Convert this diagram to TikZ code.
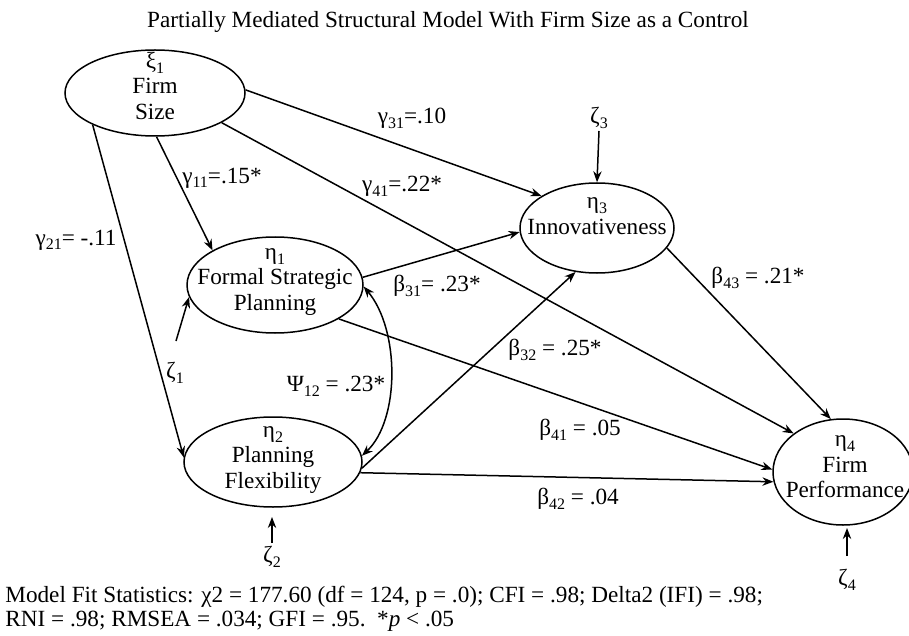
\documentclass[tikz,border=0pt]{standalone}
\usepackage{fontspec}
\setmainfont{Liberation Serif}
\usetikzlibrary{shapes.geometric,arrows.meta}
\newcommand{\sbs}[1]{\raisebox{-0.45ex}{\fontsize{8}{8}\selectfont #1}}
\tikzset{
  lat/.style={draw, ellipse, line width=0.75pt, inner sep=0pt},
  txt/.style={align=center, font=\fontsize{11.6}{12.8}\selectfont, inner sep=0pt},
  lbl/.style={font=\fontsize{11.6}{13}\selectfont, inner sep=0pt},
  path/.style={line width=0.75pt, -{Stealth[length=5.5pt,width=4.2pt]}},
  dpath/.style={line width=0.75pt, {Stealth[length=5.5pt,width=4.2pt]}-{Stealth[length=5.5pt,width=4.2pt]}}
}
\begin{document}
\begin{tikzpicture}[x=0.5pt,y=-0.5pt]
\useasboundingbox (0,0) rectangle (909,636);
% title
\node[lbl] (title) at (448,22) {Partially Mediated Structural Model With Firm Size as a Control};
% latent variables
\node[lat, minimum width=90pt, minimum height=43pt] (fs) at (155,93) {};
\node[lat, minimum width=88pt, minimum height=48pt] (fsp) at (275,285) {};
\node[lat, minimum width=77pt, minimum height=45pt] (inn) at (597,228) {};
\node[lat, minimum width=89pt, minimum height=45pt] (pf) at (273,462) {};
\node[lat, minimum width=70pt, minimum height=53pt] (fp) at (843,472) {};
\node[txt] (fst) at (155,86) {ξ\sbs{1}\\Firm\\Size};
\node[txt] (fspt) at (275,282) {η\sbs{1}\\Formal Strategic\\Planning};
\node[txt] (innt) at (597,216) {η\sbs{3}\\Innovativeness};
\node[txt] (pft) at (273,460) {η\sbs{2}\\Planning\\Flexibility};
\node[txt] (fpt) at (845,467) {η\sbs{4}\\Firm\\Performance};
% disturbances
\node[lbl] (z1) at (175,373) {ζ\sbs{1}};
\node[lbl] (z2) at (272,557) {ζ\sbs{2}};
\node[lbl] (z3) at (599,118) {ζ\sbs{3}};
\node[lbl] (z4) at (847,580) {ζ\sbs{4}};
\coordinate (z1s) at (176,341);
\coordinate (z2s) at (272,543);
\coordinate (z2e) at (272,517);
\coordinate (z3s) at (599,131);
\coordinate (z4s) at (847,556);
\coordinate (z4e) at (847,528);
\draw[path] (z1s) -- (fsp.-172);
\draw[path] (z2s) -- (z2e);
\draw[path] (z3s) -- (inn.north);
\draw[path] (z4s) -- (z4e);
% structural paths
\draw[path] (fs.-153) -- (pf.177);
\draw[path] (fs.-88) -- (fsp.151);
\draw[path] (fs.2) -- (inn.150);
\draw[path] (fs.-24) -- (fp.142);
\draw[path] (fsp.5) -- (inn.-177);
\draw[path] (fsp.-28) -- (fp.178);
\draw[path] (pf.-4) -- (inn.-116);
\draw[path] (pf.-7) -- (fp.-172);
\draw[path] (inn.-16) -- (fp.103);
\draw[dpath] (fsp.-1) .. controls (400,330) and (400,420) .. (pf.4);
% labels
\node[lbl] (g21) at (76,240) {γ\sbs{21}= -.11};
\node[lbl] (g11) at (222,178) {γ\sbs{11}=.15*};
\node[lbl] (g31) at (412,118) {γ\sbs{31}=.10};
\node[lbl] (g41) at (402,186) {γ\sbs{41}=.22*};
\node[lbl] (b31) at (437,286) {β\sbs{31}= .23*};
\node[lbl] (b32) at (555,350) {β\sbs{32} = .25*};
\node[lbl] (b41) at (580,430) {β\sbs{41} = .05};
\node[lbl] (b42) at (578,499) {β\sbs{42} = .04};
\node[lbl] (b43) at (758,278) {β\sbs{43} = .21*};
\node[lbl] (p12) at (336,386) {Ψ\sbs{12} = .23*};
% footer
\node[lbl, anchor=west] (f1) at (5,597) {Model Fit Statistics: χ2 = 177.60 (df = 124, p = .0); CFI = .98; Delta2 (IFI) = .98;};
\node[lbl, anchor=west] (f2) at (5,621) {RNI = .98; RMSEA = .034; GFI = .95.\ \ *\textit{p} < .05};
\end{tikzpicture}
\end{document}
